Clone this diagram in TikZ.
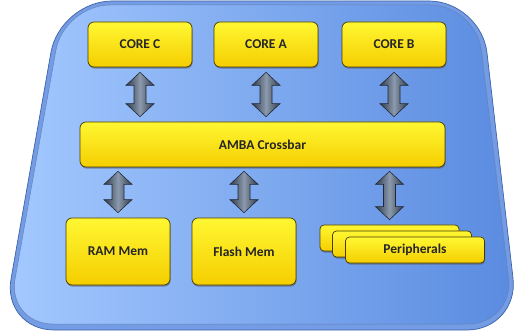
\documentclass[tikz,border=0pt]{standalone}
\usepackage{fontspec}
\setmainfont{Carlito}
\usetikzlibrary{calc,shadows}

\definecolor{boardhi}{HTML}{A4C9FF}
\definecolor{boardlo}{HTML}{5A8BE0}
\definecolor{boardrim}{HTML}{3E63A8}
\definecolor{unithi}{HTML}{FFF732}
\definecolor{unitlo}{HTML}{F5CE00}
\definecolor{unitrim}{HTML}{4A3C00}
\definecolor{arrowhi}{HTML}{8C9AAE}
\definecolor{arrowlo}{HTML}{2F3A4A}

% double block arrow from a top point down to a bottom point
\newcommand\busarrow[2]{%
  \path[bus] let \p1=(#1), \p2=(#2) in
    (\x1,\y1) -- (\x1+14pt,\y1-13pt) -- (\x1+6pt,\y1-13pt)
    -- (\x1+6pt,\y2+13pt) -- (\x1+14pt,\y2+13pt) -- (\x1,\y2)
    -- (\x1-14pt,\y2+13pt) -- (\x1-6pt,\y2+13pt) -- (\x1-6pt,\y1-13pt)
    -- (\x1-14pt,\y1-13pt) -- cycle;}

\begin{document}
\begin{tikzpicture}[x=1pt,y=-1pt,%
  unit/.style={draw=unitrim,rounded corners=6pt,top color=unithi,
    bottom color=unitlo,line width=0.7pt,font=\fontsize{13.5}{15}\selectfont\bfseries,
    text=black!85,inner sep=0pt,
    drop shadow={shadow xshift=0.6pt,shadow yshift=-1.6pt,fill=black!70,opacity=0.5}},
  bus/.style={draw=arrowlo!70!black,line width=0.6pt,left color=arrowlo,
    right color=arrowlo,middle color=arrowhi}]
  \useasboundingbox (0,0) rectangle (520,334);
  % board
  \draw[boardrim,fill=boardlo!85!white,rounded corners=52pt,line width=0.7pt]
    (60,1) -- (481,1) -- (519,330) -- (2,330) -- cycle;
  \draw[boardrim!80,left color=boardhi,right color=boardlo,rounded corners=46pt,
    line width=0.5pt]
    (64,5) -- (476,5) -- (514,324) -- (7,324) -- cycle;
  % cores and crossbar
  \node[unit,minimum width=104pt,minimum height=45pt] (coreC) at (140,44.5) {CORE C};
  \node[unit,minimum width=104pt,minimum height=45pt] (coreA) at (266,44.5) {CORE A};
  \node[unit,minimum width=104pt,minimum height=45pt] (coreB) at (394,44.5) {CORE B};
  \node[unit,minimum width=365pt,minimum height=45pt] (amba) at (262.5,144.5) {AMBA Crossbar};
  % memories and peripherals
  \node[unit,minimum width=104pt,minimum height=67pt] (ram) at (118,251.5) {RAM Mem};
  \node[unit,minimum width=104pt,minimum height=67pt] (flash) at (244,251.5) {Flash Mem};
  \node[unit,minimum width=139pt,minimum height=26pt,rounded corners=4pt] (per1) at (389.5,238) {};
  \node[unit,minimum width=139pt,minimum height=26pt,rounded corners=4pt] (per2) at (402,244) {};
  \node[unit,minimum width=139pt,minimum height=26pt,rounded corners=4pt] (per3) at (415,250) {Peripherals};
  % arrows
  \foreach \c in {coreC,coreA,coreB}
    \busarrow{$(\c.south)+(0,5)$}{$(\c.south |- amba.north)+(0,-5)$};
  \foreach \m in {ram,flash,per1}
    \busarrow{$(\m.north |- amba.south)+(0,4)$}{$(\m.north)+(0,-5)$};
\end{tikzpicture}
\end{document}
